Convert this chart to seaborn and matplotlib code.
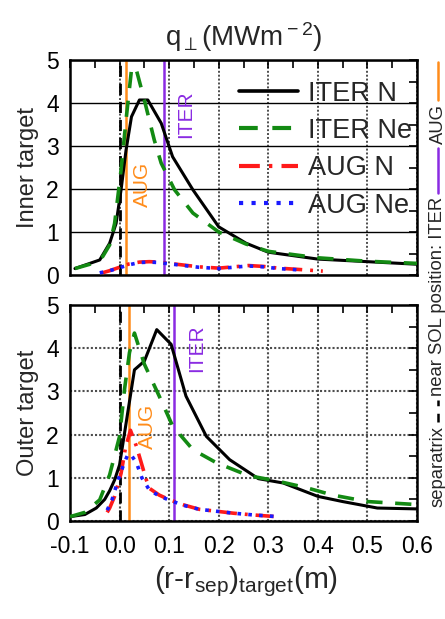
import numpy as np
import pandas as pd
import matplotlib
matplotlib.use("Agg")
import matplotlib.pyplot as plt
import seaborn as sns
from matplotlib.ticker import MultipleLocator, FormatStrFormatter
from matplotlib.lines import Line2D

# ---------------- data ----------------
series_labels = ["ITER N", "ITER Ne", "AUG N", "AUG Ne"]
panel_labels = ["Inner target", "Outer target"]
x_ticks = [-0.1, 0.0, 0.1, 0.2, 0.3, 0.4, 0.5, 0.6]
y_ticks = [0, 1, 2, 3, 4, 5]

# Inner target
iter_n_in_x = [-0.09, -0.04, -0.02, -0.007, 0.003, 0.013, 0.024, 0.04, 0.057, 0.084, 0.107, 0.148, 0.2, 0.255, 0.3, 0.4, 0.5, 0.6]
iter_n_in_y = [0.15, 0.35, 0.74, 1.2, 1.98, 2.9, 3.68, 4.07, 4.07, 3.53, 2.75, 1.98, 1.12, 0.74, 0.53, 0.37, 0.31, 0.25]
iter_ne_in_x = [-0.09, -0.06, -0.034, -0.02, -0.01, 0.003, 0.013, 0.024, 0.032, 0.05, 0.07, 0.084, 0.111, 0.148, 0.2, 0.255, 0.3, 0.4, 0.5, 0.6]
iter_ne_in_y = [0.15, 0.25, 0.43, 0.7, 1.2, 2.44, 3.6, 4.77, 4.85, 4.07, 3.14, 2.6, 1.98, 1.44, 1.0, 0.72, 0.55, 0.4, 0.32, 0.27]
aug_n_in_x = [-0.035, -0.02, 0.0, 0.02, 0.04, 0.06, 0.08, 0.1, 0.13, 0.16, 0.2, 0.23, 0.26, 0.29, 0.32, 0.36, 0.41]
aug_n_in_y = [0.05, 0.1, 0.18, 0.26, 0.3, 0.31, 0.3, 0.27, 0.23, 0.19, 0.16, 0.19, 0.22, 0.2, 0.16, 0.13, 0.09]
aug_ne_in_x = [-0.04, -0.02, 0.0, 0.02, 0.04, 0.06, 0.08, 0.1, 0.13, 0.16, 0.2, 0.23, 0.26, 0.29, 0.32, 0.36]
aug_ne_in_y = [0.05, 0.1, 0.17, 0.24, 0.29, 0.3, 0.29, 0.26, 0.22, 0.18, 0.15, 0.18, 0.21, 0.19, 0.15, 0.12]

# Outer target
iter_n_out_x = [-0.1, -0.07, -0.047, -0.03, -0.02, -0.01, 0.0, 0.015, 0.03, 0.05, 0.075, 0.104, 0.134, 0.175, 0.222, 0.28, 0.33, 0.4, 0.45, 0.52, 0.6]
iter_n_out_y = [0.1, 0.15, 0.3, 0.5, 0.7, 0.95, 1.3, 2.4, 3.5, 3.7, 4.43, 4.09, 2.89, 1.96, 1.42, 0.98, 0.88, 0.57, 0.45, 0.3, 0.28]
iter_ne_out_x = [-0.1, -0.07, -0.04, -0.02, 0.0, 0.01, 0.02, 0.03, 0.05, 0.08, 0.107, 0.148, 0.195, 0.26, 0.316, 0.377, 0.43, 0.5, 0.6]
iter_ne_out_y = [0.1, 0.2, 0.49, 1.07, 1.96, 3.05, 3.9, 4.35, 3.63, 2.89, 2.2, 1.65, 1.35, 1.05, 0.93, 0.77, 0.6, 0.45, 0.38]
aug_n_out_x = [-0.025, -0.02, -0.01, 0.003, 0.012, 0.022, 0.034, 0.045, 0.054, 0.061, 0.08, 0.101, 0.13, 0.161, 0.2, 0.23, 0.27, 0.316]
aug_n_out_y = [0.2, 0.3, 0.57, 1.1, 1.7, 2.1, 1.73, 1.3, 0.95, 0.75, 0.6, 0.49, 0.37, 0.27, 0.22, 0.18, 0.14, 0.1]
aug_ne_out_x = [-0.025, -0.015, -0.003, 0.008, 0.017, 0.025, 0.034, 0.045, 0.06, 0.08, 0.101, 0.13, 0.161, 0.2, 0.23, 0.27, 0.32]
aug_ne_out_y = [0.25, 0.5, 0.95, 1.3, 1.55, 1.5, 1.35, 1.0, 0.72, 0.58, 0.48, 0.36, 0.27, 0.22, 0.18, 0.14, 0.1]

# near-SOL positions
separatrix_pos = 0.0
aug_pos = [0.0125, 0.019]
iter_pos = [0.09, 0.11]

# ---------------- style ----------------
sns.set_theme(style="white")
plt.rcParams["font.family"] = ["Liberation Sans", "DejaVu Sans"]
plt.rcParams["axes.unicode_minus"] = False
plt.rcParams["mathtext.fontset"] = "custom"
plt.rcParams["mathtext.rm"] = "Liberation Sans"
plt.rcParams["mathtext.it"] = "Liberation Sans"
plt.rcParams["mathtext.bf"] = "Liberation Sans"

colors = {"ITER N": "black", "ITER Ne": "#138a13", "AUG N": "#ff1a1a", "AUG Ne": "#1a1aff"}
styles = {"ITER N": "-", "ITER Ne": (0, (4.5, 3.5)), "AUG N": (0, (5, 2.2, 0.8, 2.2)), "AUG Ne": (0, (1, 2))}
widths = {"ITER N": 2.2, "ITER Ne": 2.6, "AUG N": 2.6, "AUG Ne": 2.6}
c_aug = "#ff8c1a"
c_iter = "#8a2be2"

fig = plt.figure(figsize=(4.45, 6.19), dpi=100)
ax_top = fig.add_axes([70 / 445, (619 - 275) / 619, 347 / 445, 215 / 619])
ax_bot = fig.add_axes([70 / 445, (619 - 521) / 619, 347 / 445, 216 / 619])

panels = [
    (ax_top, [(iter_n_in_x, iter_n_in_y), (iter_ne_in_x, iter_ne_in_y), (aug_n_in_x, aug_n_in_y), (aug_ne_in_x, aug_ne_in_y)]),
    (ax_bot, [(iter_n_out_x, iter_n_out_y), (iter_ne_out_x, iter_ne_out_y), (aug_n_out_x, aug_n_out_y), (aug_ne_out_x, aug_ne_out_y)]),
]

for i, (ax, data) in enumerate(panels):
    ax.set_xlim(-0.1, 0.6)
    ax.set_ylim(0, 5)
    ax.set_axisbelow(True)
    if i == 0:
        ax.yaxis.grid(True, color="black", lw=1.0, ls="-")
        ax.xaxis.grid(True, color="0.3", lw=1.4, ls=(0, (1, 1)))
    else:
        ax.yaxis.grid(True, color="0.3", lw=1.5, ls=(0, (1, 1)))
        ax.xaxis.grid(True, color="0.3", lw=1.5, ls=(0, (1, 1)))
    ax.axvline(separatrix_pos, color="black", lw=2.0, ls=(0, (4, 2.5)), zorder=1.5)
    ax.axvline(aug_pos[i], color=c_aug, lw=1.8, zorder=1.6)
    ax.axvline(iter_pos[i], color=c_iter, lw=1.8, zorder=1.6)
    for lab, (xs, ys) in zip(series_labels, data):
        df = pd.DataFrame({"x": xs, "q": ys})
        sns.lineplot(data=df, x="x", y="q", ax=ax, color=colors[lab], lw=widths[lab],
                     linestyle=styles[lab], label=lab, sort=False, estimator=None,
                     legend=False, zorder=3)
    ax.set_xlabel("")
    ax.set_ylabel(panel_labels[i], fontsize=17, labelpad=5)
    ax.set_xticks(x_ticks)
    ax.set_yticks(y_ticks)
    ax.xaxis.set_minor_locator(MultipleLocator(0.05))
    ax.yaxis.set_minor_locator(MultipleLocator(0.5))
    ax.xaxis.set_major_formatter(FormatStrFormatter("%.1f"))
    ax.tick_params(which="both", direction="in", top=True, right=True, length=6, width=1.2, colors="black")
    ax.tick_params(axis="x", which="major", labelsize=16.5, pad=10)
    ax.tick_params(axis="y", which="major", labelsize=16.5, pad=8)
    for sp in ax.spines.values():
        sp.set_linewidth(1.8)
        sp.set_color("black")
        sp.set_visible(True)

ax_top.tick_params(labelbottom=False)

# in-plot labels
ax_top.text(0.047, 2.1, "AUG", color=c_aug, rotation=90, fontsize=15, ha="center", va="center")
ax_top.text(0.134, 3.74, "ITER", color=c_iter, rotation=90, fontsize=15, ha="center", va="center")
ax_bot.text(0.057, 2.19, "AUG", color=c_aug, rotation=90, fontsize=15, ha="center", va="center")
ax_bot.text(0.155, 4.0, "ITER", color=c_iter, rotation=90, fontsize=15, ha="center", va="center")

# legend
handles = [Line2D([], [], color=colors[l], lw=widths[l] + 0.4, ls=styles[l]) for l in series_labels]
ax_top.legend(handles, series_labels, loc="upper right", bbox_to_anchor=(1.017, 0.955), frameon=False,
              fontsize=19.5, handlelength=2.2, handletextpad=0.35, labelspacing=0.42, borderaxespad=0.0)

# title and x label
fig.text(244 / 445, 1 - 37 / 619, r"q$_{\perp}$(MWm$^{\rm -2}$)", fontsize=20, ha="center", va="center")
fig.text(246 / 445, 1 - 582 / 619, r"(r-r$_{\rm sep}$)$_{\rm target}$(m)", fontsize=21.5, ha="center", va="center")

# right-side rotated annotation built piece by piece
fig.canvas.draw()
renderer = fig.canvas.get_renderer()
xf = 438 / 445
ypix = 619 - 507
gap = 4

def add_text(s, y):
    t = fig.text(xf, y / 619, s, rotation=90, fontsize=13.3, ha="center", va="bottom")
    bb = t.get_window_extent(renderer)
    return bb.y1

def add_line(y, length, color, ls="-"):
    fig.add_artist(Line2D([xf, xf], [y / 619, (y + length) / 619], transform=fig.transFigure,
                          color=color, lw=1.8, ls=ls))
    return y + length

ypix = add_text("separatrix", ypix) + gap
ypix = add_line(ypix, 22, "black", ls=(0, (3.5, 3))) + gap
ypix = add_text("near SOL position: ITER", ypix) + gap
ypix = add_line(ypix, 45, c_iter) + gap
ypix = add_text("AUG", ypix) + gap
ypix = add_line(ypix, 38, c_aug)

fig.savefig("out.png", dpi=100)
